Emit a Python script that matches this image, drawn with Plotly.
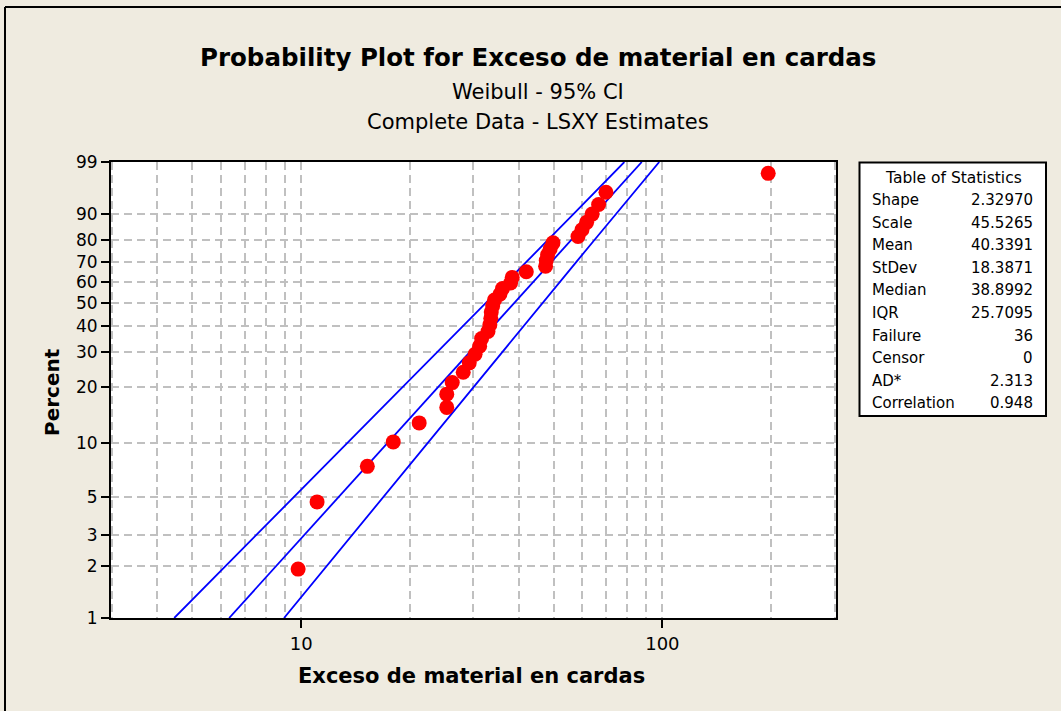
import numpy as np
import plotly.graph_objects as go

# ---------------- data ----------------
exceso = [9.81, 11.07, 15.25, 17.99, 21.22, 25.3, 25.3, 26.2, 28.1, 29.2,
          30.3, 31.2, 31.6, 32.9, 33.3, 33.5, 33.6, 33.9, 34.3, 35.5,
          36.1, 38.0, 38.4, 42.0, 47.5, 47.7, 48.1, 48.9, 49.8, 58.4,
          59.9, 61.7, 63.9, 66.6, 69.8, 196.3]
percent = [1.92, 4.67, 7.42, 10.16, 12.91, 15.66, 18.41, 21.15, 23.90, 26.65,
           29.40, 32.14, 34.89, 37.64, 40.38, 43.13, 45.88, 48.63, 51.37, 54.12,
           56.87, 59.62, 62.36, 65.11, 67.86, 70.60, 73.35, 76.10, 78.85, 81.59,
           84.34, 87.09, 89.84, 92.58, 95.33, 98.08]

band_pct = [1, 2, 3, 5, 10, 20, 30, 40, 50, 60, 70, 80, 90, 99]
fit_x = [6.320, 8.529, 10.172, 12.722, 17.328, 23.959, 29.248, 34.123,
         38.899, 43.850, 49.303, 55.845, 65.124, 87.694]
ci_low_x = [4.454, 6.185, 7.50, 9.58, 13.43, 19.14, 23.81, 28.17,
            32.49, 37.02, 42.05, 48.16, 56.89, 78.47]
ci_high_x = [8.968, 11.76, 13.79, 16.89, 22.35, 29.99, 35.93, 41.33,
             46.57, 51.94, 57.80, 64.76, 74.55, 98.01]

y_ticks = [1, 2, 3, 5, 10, 20, 30, 40, 50, 60, 70, 80, 90, 99]
x_ticks = [10, 100]
x_minor = [3, 4, 5, 6, 7, 8, 9, 20, 30, 40, 50, 60, 70, 80, 90, 200, 300]

stat_names = ["Shape", "Scale", "Mean", "StDev", "Median", "IQR",
              "Failure", "Censor", "AD*", "Correlation"]
stat_values = ["2.32970", "45.5265", "40.3391", "18.3871", "38.8992",
               "25.7095", "36", "0", "2.313", "0.948"]

title_main = "Probability Plot for Exceso de material en cardas"
subtitle1 = "Weibull - 95% CI"
subtitle2 = "Complete Data - LSXY Estimates"
x_label = "Exceso de material en cardas"
y_label = "Percent"


# Weibull probability scale
def wscale(p):
    p = np.asarray(p, dtype=float) / 100.0
    return np.log(-np.log(1.0 - p))


FONT = "DejaVu Sans"
BG = "#EFEBE0"
GRID = "#C0C0C0"
BLUE = "#0000FF"

W, H = 1061, 711
L, R, T, B = 111, 836, 162, 618  # plot area in pixels


def px(xp):
    return (xp - L) / (R - L)


def py(yp):
    return (B - yp) / (B - T)


fig = go.Figure()

for xs in (ci_low_x, fit_x, ci_high_x):
    fig.add_trace(go.Scatter(x=xs, y=wscale(band_pct), mode="lines",
                             line=dict(color=BLUE, width=1.8),
                             hoverinfo="skip", showlegend=False))

fig.add_trace(go.Scatter(x=exceso, y=wscale(percent), mode="markers",
                         marker=dict(color="#FF0000", size=15, line=dict(width=0)),
                         showlegend=False))

fig.update_xaxes(type="log", range=[0.4737, 2.4806],
                 tickvals=x_ticks, ticktext=[str(v) for v in x_ticks],
                 ticks="outside", ticklen=8, tickwidth=2, tickcolor="black",
                 showline=True, linecolor="black", linewidth=2, mirror=True,
                 showgrid=True, gridcolor=GRID, griddash="8px,5px", gridwidth=2,
                 minor=dict(tickvals=x_minor, showgrid=True, gridcolor=GRID,
                            griddash="8px,5px", gridwidth=2, ticks=""),
                 zeroline=False,
                 tickfont=dict(family=FONT, size=18, color="black"))

fig.update_yaxes(range=[float(wscale(1)), float(wscale(99))],
                 tickvals=wscale(y_ticks), ticktext=[str(v) for v in y_ticks],
                 ticks="outside", ticklen=8, tickwidth=2, tickcolor="black",
                 showline=True, linecolor="black", linewidth=2, mirror=True,
                 showgrid=True, gridcolor=GRID, griddash="8px,5px", gridwidth=2,
                 zeroline=False,
                 tickfont=dict(family=FONT, size=17, color="black"))

ann = []
ann.append(dict(text="<b>" + title_main + "</b>", x=px(538), y=py(58),
                font=dict(family=FONT, size=24.5, color="black")))
ann.append(dict(text=subtitle1, x=px(538), y=py(92),
                font=dict(family=FONT, size=21, color="black")))
ann.append(dict(text=subtitle2, x=px(538), y=py(122),
                font=dict(family=FONT, size=21, color="black")))
ann.append(dict(text="<b>" + x_label + "</b>", x=px(471), y=py(676),
                font=dict(family=FONT, size=21, color="black")))
ann.append(dict(text="<b>" + y_label + "</b>", x=px(52), y=py(392),
                textangle=-90, font=dict(family=FONT, size=20, color="black")))

# Table of statistics
ann.append(dict(text="Table of Statistics", x=px(953), y=py(178),
                font=dict(family=FONT, size=15.5, color="black")))
row_y0, row_dy = 200, 22.6
for i, (n, v) in enumerate(zip(stat_names, stat_values)):
    yy = row_y0 + i * row_dy
    ann.append(dict(text=n, x=px(870), y=py(yy), xanchor="left",
                    font=dict(family=FONT, size=15, color="black")))
    ann.append(dict(text=v, x=px(1035), y=py(yy), xanchor="right",
                    font=dict(family=FONT, size=15, color="black")))

for a in ann:
    a.setdefault("xanchor", "center")
    a.update(xref="paper", yref="paper", yanchor="middle", showarrow=False)

shapes = [
    dict(type="rect", xref="paper", yref="paper",
         x0=px(859.5), x1=px(1046), y0=py(416), y1=py(162.5),
         line=dict(color="black", width=2), fillcolor="white", layer="below"),
    dict(type="line", xref="paper", yref="paper",
         x0=px(5), x1=px(1061), y0=py(7), y1=py(7),
         line=dict(color="black", width=2)),
    dict(type="line", xref="paper", yref="paper",
         x0=px(5), x1=px(5), y0=py(7), y1=py(711),
         line=dict(color="black", width=2)),
]

fig.update_layout(width=W, height=H, paper_bgcolor=BG, plot_bgcolor="white",
                  margin=dict(l=L, r=W - R, t=T, b=H - B, pad=0),
                  annotations=ann, shapes=shapes, showlegend=False)

fig.write_html("out.html",
               config={"displayModeBar": False},
               post_script="document.body.style.margin='0';"
                           "document.body.style.padding='0';"
                           "document.body.style.overflow='hidden';")
